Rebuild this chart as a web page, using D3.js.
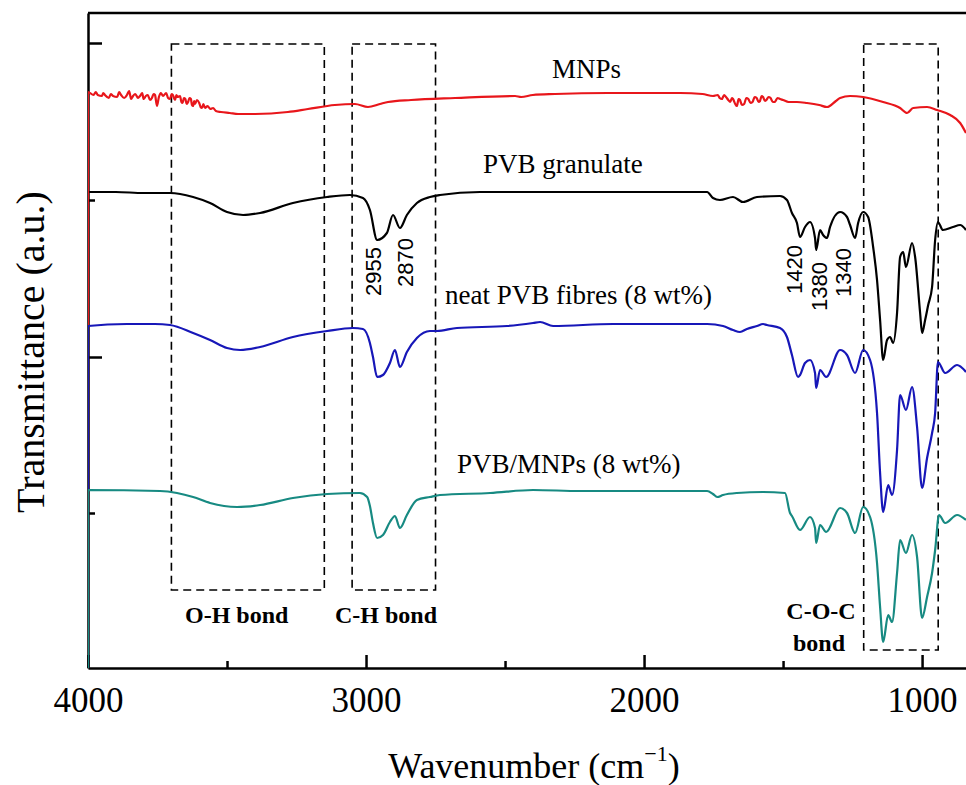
<!DOCTYPE html>
<html>
<head>
<meta charset="utf-8">
<script src="https://cdnjs.cloudflare.com/ajax/libs/d3/7.8.5/d3.min.js"></script>
<style>
body { margin: 0; background: #fff; }
</style>
</head>
<body>
<div class="canvas"></div>
<script>
// spectra: [wavenumber (cm-1), transmittance (a.u., stacked)]
const mnps = [
    [4000, 57.6], [3980, 57.3], [3972, 57.6], [3965, 57.3], [3950, 57.2], [3945, 57.5], [3939, 57.3],
    [3925, 57.0], [3918, 57.4], [3910, 57.2], [3895, 57.1], [3888, 57.6], [3881, 57.3], [3870, 57.0],
    [3860, 57.3], [3852, 57.7], [3845, 56.9], [3838, 57.2], [3830, 57.4], [3820, 57.0], [3813, 57.2],
    [3805, 57.5], [3800, 56.9], [3792, 57.2], [3785, 57.3], [3777, 56.8], [3770, 57.0], [3764, 57.4],
    [3759, 57.3], [3752, 56.2], [3745, 57.1], [3738, 57.5], [3730, 57.2], [3719, 57.5], [3712, 57.0],
    [3705, 56.9], [3699, 57.4], [3695, 57.3], [3687, 56.8], [3682, 57.3], [3678, 57.1], [3669, 57.2],
    [3664, 56.6], [3660, 56.5], [3655, 57.0], [3650, 56.9], [3645, 56.4], [3640, 56.6], [3635, 57.0],
    [3630, 56.9], [3626, 56.3], [3622, 56.2], [3618, 56.7], [3615, 56.4], [3608, 56.8], [3600, 56.5],
    [3595, 56.1], [3590, 56.0], [3585, 56.4], [3579, 56.0], [3570, 56.2], [3560, 55.9], [3550, 56.0],
    [3540, 55.7], [3522, 55.6], [3490, 55.5], [3460, 55.4], [3399, 55.4], [3281, 55.6], [3209, 55.9],
    [3112, 56.3], [3040, 56.4], [2993, 56.1], [2950, 56.4], [2921, 56.6], [2838, 56.8], [2680, 57.0],
    [2464, 57.2], [2442, 57.1], [2400, 57.3], [2320, 57.4], [2130, 57.5], [1870, 57.5], [1790, 57.4],
    [1752, 57.2], [1735, 57.3], [1728, 57.0], [1720, 56.9], [1712, 57.3], [1705, 57.1], [1697, 56.8],
    [1690, 56.6], [1684, 57.0], [1680, 56.9], [1672, 56.4], [1666, 56.2], [1660, 56.9], [1655, 56.8],
    [1648, 56.3], [1640, 56.4], [1632, 57.0], [1625, 56.9], [1617, 56.5], [1610, 56.6], [1602, 57.1],
    [1595, 57.0], [1588, 56.6], [1583, 56.7], [1577, 57.2], [1572, 57.1], [1565, 56.7], [1560, 56.8],
    [1552, 57.1], [1545, 57.0], [1537, 56.6], [1530, 56.6], [1520, 57.0], [1511, 56.9], [1500, 56.8],
    [1480, 56.6], [1450, 56.6], [1414, 56.5], [1370, 56.3], [1342, 56.1], [1310, 56.7], [1295, 57.0],
    [1259, 57.2], [1212, 57.1], [1140, 56.6], [1079, 56.0], [1054, 55.5], [1032, 56.0], [982, 56.1],
    [946, 55.8], [899, 55.3], [863, 54.5], [842, 53.5]
];

const granulate = [
    [4000, 47.6], [3900, 47.6], [3800, 47.5], [3705, 47.5], [3622, 47.1], [3561, 46.5], [3500, 45.6],
    [3442, 45.3], [3381, 45.5], [3263, 46.5], [3140, 47.1], [3058, 47.3], [3011, 47.0], [2986, 45.8],
    [2960, 42.8], [2925, 43.5], [2903, 45.3], [2878, 44.0], [2853, 45.3], [2817, 46.5], [2770, 47.1],
    [2734, 47.3], [2590, 47.6], [2130, 47.6], [1773, 47.6], [1752, 47.0], [1727, 46.8], [1680, 47.1],
    [1644, 46.6], [1594, 47.1], [1511, 47.2], [1486, 46.8], [1468, 45.5], [1450, 44.5], [1439, 43.1],
    [1421, 44.1], [1403, 44.6], [1385, 43.0], [1381, 41.8], [1367, 43.8], [1356, 43.3], [1342, 43.0],
    [1331, 44.1], [1295, 45.6], [1270, 45.1], [1259, 44.3], [1241, 43.0], [1230, 44.5], [1212, 45.6],
    [1194, 45.1], [1176, 42.1], [1162, 38.8], [1151, 34.8], [1140, 30.8], [1126, 32.8], [1115, 33.1],
    [1104, 32.5], [1090, 35.5], [1079, 41.1], [1068, 41.6], [1058, 40.1], [1036, 42.5], [1025, 41.1],
    [1007, 35.5], [1000, 33.5], [989, 34.8], [978, 36.3], [964, 38.1], [953, 42.8], [943, 44.6],
    [925, 43.8], [889, 44.1], [863, 44.3], [842, 43.8]
];

const fibres = [
    [4000, 34.2], [3860, 34.4], [3760, 34.4], [3705, 34.3], [3622, 33.5], [3561, 32.8], [3500, 32.0],
    [3453, 31.8], [3381, 32.1], [3263, 33.1], [3140, 33.7], [3047, 34.0], [3011, 33.9], [2986, 32.5],
    [2975, 31.1], [2960, 29.1], [2939, 29.3], [2914, 30.5], [2896, 31.8], [2878, 30.1], [2853, 31.6],
    [2817, 33.0], [2770, 33.7], [2745, 33.7], [2673, 34.0], [2493, 34.2], [2399, 34.5], [2374, 34.6],
    [2327, 34.2], [2112, 34.4], [1773, 34.4], [1716, 34.2], [1680, 33.8], [1655, 33.6], [1630, 33.9],
    [1594, 34.2], [1572, 34.4], [1558, 34.3], [1511, 34.0], [1486, 33.1], [1468, 31.3], [1446, 29.1],
    [1439, 29.3], [1421, 30.5], [1403, 30.8], [1385, 29.5], [1381, 28.0], [1367, 29.8], [1345, 29.1],
    [1295, 31.8], [1270, 31.3], [1241, 29.5], [1212, 31.8], [1187, 30.8], [1162, 25.5], [1151, 19.5],
    [1140, 15.6], [1122, 18.3], [1108, 17.3], [1090, 21.8], [1079, 27.3], [1058, 25.8], [1036, 28.1],
    [1018, 24.1], [1000, 18.0], [982, 21.0], [964, 23.5], [953, 25.5], [943, 30.6], [917, 29.5],
    [874, 30.3], [842, 29.6]
];

const composite = [
    [4000, 17.8], [3741, 17.7], [3680, 17.5], [3622, 17.1], [3561, 16.5], [3464, 16.1], [3381, 16.3],
    [3263, 17.0], [3140, 17.4], [3022, 17.5], [2996, 17.1], [2986, 16.2], [2975, 14.5], [2960, 13.0],
    [2939, 13.3], [2914, 14.6], [2896, 15.2], [2878, 14.0], [2853, 15.3], [2817, 16.8], [2770, 17.1],
    [2734, 17.3], [2554, 17.5], [2399, 17.8], [2230, 17.7], [1773, 17.7], [1752, 17.4], [1737, 17.1],
    [1716, 17.3], [1666, 17.5], [1572, 17.6], [1493, 17.5], [1475, 15.5], [1468, 15.2], [1439, 13.8],
    [1403, 15.1], [1385, 14.0], [1381, 12.5], [1367, 14.3], [1345, 13.6], [1295, 16.0], [1270, 15.5],
    [1241, 13.5], [1212, 16.1], [1187, 15.1], [1162, 10.5], [1151, 6.1], [1140, 2.6], [1122, 5.3],
    [1108, 4.6], [1090, 9.5], [1079, 12.8], [1058, 11.5], [1036, 13.3], [1018, 11.1], [1000, 5.0],
    [982, 7.1], [964, 9.5], [953, 11.8], [939, 15.3], [917, 14.5], [874, 15.3], [842, 14.8]
];

const seriesNames = ['MNPs', 'PVB granulate', 'neat PVB fibres (8 wt%)', 'PVB/MNPs (8 wt%)'];
const seriesColors = ['#e8161b', '#000000', '#1717b8', '#178a82'];

const xTicks = [4000, 3000, 2000, 1000];
const xMinorTicks = [3500, 2500, 1500];
const yTicks = [31.1, 62.5];
const yMinorTicks = [15.5, 46.8];

const peakLabels = [2955, 2870, 1420, 1380, 1340];
const bondBoxes = [[3700, 3150], [3050, 2750], [1210, 942]];
const bondLabels = ['O-H bond', 'C-H bond', 'C-O-C bond'];


const canvas = d3.select('.canvas');

const svg = canvas.append('svg')
    .attr('width', 966)
    .attr('height', 785)
    .style('display', 'block');

const x = d3.scaleLinear().domain([4000, 842]).range([88, 966]);
const y = d3.scaleLinear().domain([0, 65.5]).range([668, 13]);

svg.append('clipPath')
    .attr('id', 'plot')
    .append('rect')
    .attr('x', 88)
    .attr('y', 13)
    .attr('width', 966 - 88)
    .attr('height', 668 - 13);

// frame + axes
svg.append('line')
    .attr('x1', 88).attr('x2', 966)
    .attr('y1', 13).attr('y2', 13)
    .attr('stroke', '#000')
    .attr('stroke-width', 2.5);

const xAxis = svg.append('g')
    .attr('transform', 'translate(0,668)')
    .call(d3.axisBottom(x).tickValues(xTicks).tickFormat(d3.format('d'))
        .tickSizeInner(-13).tickSizeOuter(0).tickPadding(19));

const xMinor = svg.append('g')
    .attr('transform', 'translate(0,668)')
    .call(d3.axisBottom(x).tickValues(xMinorTicks).tickSizeInner(-7).tickSizeOuter(0).tickFormat(''));
xMinor.select('.domain').remove();

const yAxis = svg.append('g')
    .attr('transform', 'translate(88,0)')
    .call(d3.axisLeft(y).tickValues(yTicks).tickSizeInner(-14).tickSizeOuter(0).tickFormat(''));

const yMinor = svg.append('g')
    .attr('transform', 'translate(88,0)')
    .call(d3.axisLeft(y).tickValues(yMinorTicks).tickSizeInner(-7).tickSizeOuter(0).tickFormat(''));
yMinor.select('.domain').remove();

svg.selectAll('.domain').attr('stroke', '#000').attr('stroke-width', 2.5);
svg.selectAll('.tick line').attr('stroke', '#000').attr('stroke-width', 2.5);

xAxis.selectAll('text')
    .attr('font-family', 'Liberation Serif, Times New Roman, serif')
    .attr('font-size', 35)
    .attr('fill', '#000');

// dashed boxes round the bond bands
const boxTop = 62.4;
const boxBottoms = [7.8, 7.8, 1.8];

svg.selectAll('.bondbox')
    .data(bondBoxes)
    .enter()
    .append('rect')
    .attr('class', 'bondbox')
    .attr('x', d => x(d[0]))
    .attr('y', y(boxTop))
    .attr('width', d => x(d[1]) - x(d[0]))
    .attr('height', (d, i) => y(boxBottoms[i]) - y(boxTop))
    .attr('fill', 'none')
    .attr('stroke', '#000')
    .attr('stroke-width', 1.6)
    .attr('stroke-dasharray', '8,5');

// spectra, drawn black first so the drop lines stack red / blue / teal on the axis
const drawOrder = [1, 0, 2, 3];
const allSeries = [mnps, granulate, fibres, composite];

const line = d3.line()
    .x(d => x(d[0]))
    .y(d => y(d[1]))
    .curve(d3.curveMonotoneX);

const traces = svg.append('g').attr('clip-path', 'url(#plot)');

drawOrder.forEach(i => {
    const s = allSeries[i];
    traces.append('path')
        .datum([[s[0][0], 0]].concat(s))
        .attr('d', line)
        .attr('fill', 'none')
        .attr('stroke', seriesColors[i])
        .attr('stroke-width', 2.2)
        .attr('stroke-linejoin', 'round');
});

// series names
const namePos = [[552, 78], [483, 173], [445, 304], [457, 473]];

svg.selectAll('.sname')
    .data(seriesNames)
    .enter()
    .append('text')
    .attr('class', 'sname')
    .attr('x', (d, i) => namePos[i][0])
    .attr('y', (d, i) => namePos[i][1])
    .attr('font-family', 'Liberation Serif, Times New Roman, serif')
    .attr('font-size', 27)
    .attr('fill', '#000')
    .text(d => d);

// peak positions, rotated
const peakShift = [[2, 247], [11, 238], [-3, 245], [11, 262], [23, 248]];

svg.selectAll('.peak')
    .data(peakLabels)
    .enter()
    .append('text')
    .attr('class', 'peak')
    .attr('transform', (d, i) => `translate(${x(d) + peakShift[i][0]},${peakShift[i][1]}) rotate(-90)`)
    .attr('text-anchor', 'end')
    .attr('font-family', 'Liberation Sans, Arial, sans-serif')
    .attr('font-size', 22)
    .attr('fill', '#000')
    .text(d => d);

// bond labels
const bondText = svg.append('g')
    .attr('font-family', 'Liberation Serif, Times New Roman, serif')
    .attr('font-size', 24)
    .attr('font-weight', 'bold')
    .attr('fill', '#000');

bondText.append('text').attr('x', 185).attr('y', 623).text(bondLabels[0]);
bondText.append('text').attr('x', 335).attr('y', 623).text(bondLabels[1]);
bondText.append('text').attr('x', 821).attr('y', 619).attr('text-anchor', 'middle').text(bondLabels[2].split(' ')[0]);
bondText.append('text').attr('x', 819).attr('y', 651).attr('text-anchor', 'middle').text(bondLabels[2].split(' ')[1]);

// axis titles
svg.append('text')
    .attr('transform', 'translate(44,352) rotate(-90)')
    .attr('text-anchor', 'middle')
    .attr('font-family', 'Liberation Serif, Times New Roman, serif')
    .attr('font-size', 40)
    .attr('fill', '#000')
    .text('Transmittance (a.u.)');

const xTitle = svg.append('text')
    .attr('x', 534)
    .attr('y', 778)
    .attr('text-anchor', 'middle')
    .attr('font-family', 'Liberation Serif, Times New Roman, serif')
    .attr('font-size', 36)
    .attr('fill', '#000');

xTitle.append('tspan').text('Wavenumber (cm');
xTitle.append('tspan').attr('font-size', 22).attr('dy', -17).text('\u22121');
xTitle.append('tspan').attr('dy', 17).text(')');
</script>
</body>
</html>
